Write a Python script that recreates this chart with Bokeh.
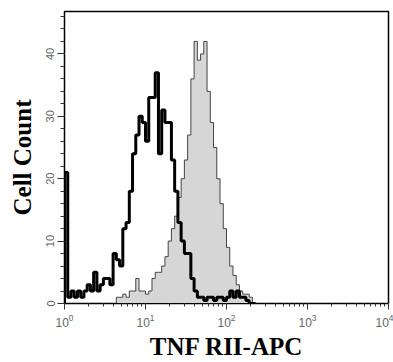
import numpy as np
from bokeh.plotting import figure
from bokeh.models import Range1d, SingleIntervalTicker, LogTicker
from bokeh.embed import file_html
from bokeh.resources import INLINE

# channel scale: bins of 0.04 decade starting at 10^0
log_start = 0.0
log_width = 0.04

# isotype control (black outline)
isotype_counts = [21, 1, 2, 1, 2, 1, 2, 3, 2, 5,
                  2, 3, 4, 4, 3, 8, 7, 6, 12, 13,
                  18, 24, 27, 30, 29, 26, 33, 33, 37, 24,
                  31, 29, 29, 23, 18, 13, 10, 8, 8, 4,
                  2, 1, 1, 0.5, 1, 1, 0.5, 1, 1, 0.5,
                  1, 2, 1, 2, 1, 1, 0.5, 0, 0]

# TNF RII-APC stained (gray filled)
stained_counts = [0, 0, 0, 0, 0, 0, 0, 0, 0, 0,
                  0, 0, 0, 0, 0, 0, 1, 1, 1.5, 1,
                  2, 2, 4, 2, 2, 1.5, 2, 4, 5, 5,
                  6, 7.5, 10, 12, 14, 17, 20, 23, 27, 36,
                  42, 39, 40, 42, 34, 29, 25, 20, 16, 12,
                  9, 6, 4.5, 3, 2, 1.5, 1.5, 1, 0]

y_ticks_interval = 10
x_title = "TNF RII-APC"
y_title = "Cell Count"

n = len(isotype_counts)
edges = 10 ** (log_start + log_width * np.arange(n + 1))
xs = np.concatenate([[edges[0]], edges])
iso_y = np.concatenate([[0], isotype_counts, [0]])
sta_y = np.concatenate([[0], stained_counts, [0]])

p = figure(width=393, height=362, x_axis_type="log",
           x_range=Range1d(1, 1e4), y_range=Range1d(0, 46.8),
           output_backend="svg", toolbar_location=None,
           min_border_left=64, min_border_right=5, min_border_top=11,
           min_border_bottom=56)
p.grid.visible = False
p.outline_line_color = "black"
p.outline_line_width = 1.5
p.background_fill_color = "white"
p.border_fill_color = "white"

p.varea_step(x=xs, y1=0, y2=sta_y, step_mode="after", fill_color="#d6d6d6")
p.step(x=xs, y=sta_y, mode="after", line_color="#444444", line_width=1)
p.step(x=xs, y=iso_y, mode="after", line_color="black", line_width=3)

yax = p.yaxis[0]
yax.ticker = SingleIntervalTicker(interval=y_ticks_interval, num_minor_ticks=5)
yax.major_label_orientation = "vertical"
yax.axis_label = y_title
yax.major_tick_out = 7
yax.minor_tick_out = 4
yax.major_tick_in = 0
yax.minor_tick_in = 0
yax.major_label_standoff = 3
yax.axis_label_standoff = 8

xax = p.xaxis[0]
xax.ticker = LogTicker(num_minor_ticks=10)
xax.axis_label = x_title
xax.major_tick_out = 6
xax.minor_tick_out = 3
xax.major_tick_in = 0
xax.minor_tick_in = 0
xax.major_label_standoff = 4
xax.axis_label_standoff = 3

for ax in (xax, yax):
    ax.axis_line_color = "black"
    ax.major_tick_line_color = "#333333"
    ax.minor_tick_line_color = "#333333"
    ax.major_label_text_color = "#666666"
    ax.major_label_text_font = "Liberation Sans"
    ax.axis_label_text_font = "Liberation Serif"
    ax.axis_label_text_font_style = "bold"
    ax.axis_label_text_font_size = "25px"
    ax.axis_label_text_color = "black"

yax.major_label_text_font_size = "11px"
xax.major_label_text_font_size = "12px"

open("out.html", "w").write(file_html(p, INLINE))
